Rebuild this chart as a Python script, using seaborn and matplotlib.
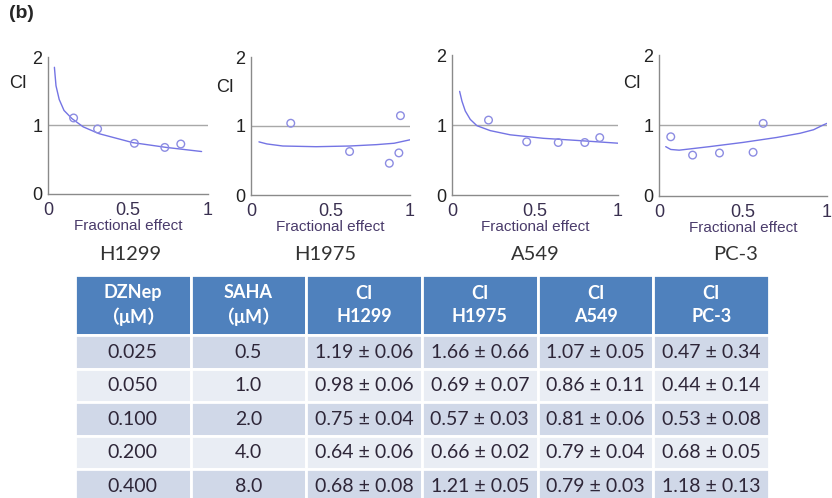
import numpy as np
import pandas as pd
import matplotlib
matplotlib.use('Agg')
import matplotlib.pyplot as plt
from matplotlib.ticker import MultipleLocator
import seaborn as sns

# ---- data ----
cell_lines = ['H1299', 'H1975', 'A549', 'PC-3']

# measured points: fractional effect vs CI
h1299_fa = [0.16, 0.31, 0.54, 0.73, 0.83]
h1299_ci = [1.11, 0.95, 0.74, 0.68, 0.73]
h1975_fa = [0.25, 0.62, 0.87, 0.93, 0.94]
h1975_ci = [1.04, 0.63, 0.46, 0.61, 1.15]
a549_fa = [0.22, 0.45, 0.64, 0.80, 0.89]
a549_ci = [1.07, 0.76, 0.75, 0.75, 0.82]
pc3_fa = [0.07, 0.20, 0.36, 0.56, 0.62]
pc3_ci = [0.84, 0.58, 0.61, 0.62, 1.03]

# fitted CI curves (traced)
h1299_curve_fa = [0.04, 0.05, 0.07, 0.10, 0.15, 0.22, 0.32, 0.53, 0.74, 0.96]
h1299_curve_ci = [1.85, 1.58, 1.38, 1.22, 1.10, 0.98, 0.88, 0.75, 0.68, 0.62]
h1975_curve_fa = [0.05, 0.10, 0.20, 0.41, 0.62, 0.79, 0.90, 1.00]
h1975_curve_ci = [0.77, 0.74, 0.71, 0.70, 0.71, 0.73, 0.75, 0.80]
a549_curve_fa = [0.046, 0.06, 0.08, 0.11, 0.15, 0.23, 0.35, 0.55, 0.75, 1.00]
a549_curve_ci = [1.48, 1.34, 1.20, 1.08, 0.99, 0.92, 0.86, 0.81, 0.78, 0.74]
pc3_curve_fa = [0.04, 0.07, 0.12, 0.30, 0.50, 0.70, 0.84, 0.92, 0.98, 1.00]
pc3_curve_ci = [0.70, 0.66, 0.65, 0.70, 0.76, 0.83, 0.89, 0.94, 1.01, 1.03]

# table
dznep = ['0.025', '0.050', '0.100', '0.200', '0.400']
saha = ['0.5', '1.0', '2.0', '4.0', '8.0']
ci_h1299 = ['1.19 ± 0.06', '0.98 ± 0.06', '0.75 ± 0.04', '0.64 ± 0.06', '0.68 ± 0.08']
ci_h1975 = ['1.66 ± 0.66', '0.69 ± 0.07', '0.57 ± 0.03', '0.66 ± 0.02', '1.21 ± 0.05']
ci_a549 = ['1.07 ± 0.05', '0.86 ± 0.11', '0.81 ± 0.06', '0.79 ± 0.04', '0.79 ± 0.03']
ci_pc3 = ['0.47 ± 0.34', '0.44 ± 0.14', '0.53 ± 0.08', '0.68 ± 0.05', '1.18 ± 0.13']
headers = ['DZNep\n（μM）', 'SAHA\n（μM）', 'CI\nH1299', 'CI\nH1975', 'CI\nA549', 'CI\nPC-3']

sns.set_style('white')
plt.rcParams['font.family'] = ['Liberation Sans', 'DejaVu Sans']
table_font = ['Lato', 'Noto Sans CJK SC', 'DejaVu Sans']

W, H = 832, 498
fig = plt.figure(figsize=(W / 100, H / 100), dpi=100)


def px_axes(l, t, r, b):
    return fig.add_axes([l / W, 1 - b / H, (r - l) / W, (b - t) / H])


# axes boxes in pixels (left, top, right, bottom)
boxes = [(48, 57, 208, 194), (251, 57, 410, 195), (452, 55, 618, 195), (659, 55, 827, 196)]
points = [(h1299_fa, h1299_ci), (h1975_fa, h1975_ci), (a549_fa, a549_ci), (pc3_fa, pc3_ci)]
curves = [(h1299_curve_fa, h1299_curve_ci), (h1975_curve_fa, h1975_curve_ci),
          (a549_curve_fa, a549_curve_ci), (pc3_curve_fa, pc3_curve_ci)]

for box, (fa, ci), (cfa, cci) in zip(boxes, points, curves):
    ax = px_axes(*box)
    ax.axhline(1, color='#a8a8a8', lw=1, zorder=1)
    sns.lineplot(x=cfa, y=cci, ax=ax, sort=False, estimator=None,
                 color='#7474e4', lw=1.0, zorder=2)
    sns.scatterplot(x=fa, y=ci, ax=ax, s=30, facecolor='none',
                    edgecolor='#8c8ce2', linewidth=1.0, zorder=3)
    ax.set_xlim(0, 1)
    ax.set_ylim(0, 2)
    ax.set_xticks([0, 0.5, 1])
    ax.set_xticklabels(['0', '0.5', '1'])
    ax.set_yticks([0, 1, 2])
    ax.set_yticklabels(['0', '1', '2'])
    ax.xaxis.set_minor_locator(MultipleLocator(0.1))
    ax.yaxis.set_minor_locator(MultipleLocator(0.5))
    ax.tick_params(which='both', direction='in', length=2.5, width=0.8,
                   colors='#909090', labelcolor='#222222', labelsize=13)
    ax.tick_params(axis='x', pad=6)
    ax.tick_params(axis='y', pad=4)
    for s in ['top', 'right']:
        ax.spines[s].set_visible(False)
    for s in ['left', 'bottom']:
        ax.spines[s].set_color('#8a8a8a')
        ax.spines[s].set_linewidth(1.0)
    ax.set_xlabel('Fractional effect', fontsize=11, color='#4a3b6b', labelpad=0)
    ax.set_ylabel('')
    for lab in ax.get_xticklabels():
        lab.set_color('#3a3050')

# CI labels (not on the A549 panel)
for x, y in [(18, 84), (225, 88), (632, 84)]:
    fig.text(x / W, 1 - y / H, 'CI', fontsize=13, color='#222222', ha='center', va='center')

# panel letter
fig.text(9 / W, 1 - 13 / H, '(b)', fontsize=14, fontweight='bold', ha='left', va='center')

# cell line names
for x, name in zip([130, 325, 535, 736], cell_lines):
    fig.text(x / W, 1 - 254 / H, name, fontsize=14.5, color='#333333',
             ha='center', va='center', family=table_font)

# ---- table ----
tax = px_axes(75, 275, 769, 503)
tax.axis('off')
rows = list(zip(dznep, saha, ci_h1299, ci_h1975, ci_a549, ci_pc3))
tbl = tax.table(cellText=rows, colLabels=headers, cellLoc='center', bbox=[0, 0, 1, 1])
tbl.auto_set_font_size(False)
for (r, c), cell in tbl.get_celld().items():
    cell.set_edgecolor('white')
    cell.set_linewidth(2)
    txt = cell.get_text()
    txt.set_family(table_font)
    if r == 0:
        cell.set_height(cell.get_height() * 1.8)
        cell.set_facecolor('#4f81bd')
        txt.set_color('white')
        txt.set_fontweight('bold')
        txt.set_fontsize(13)
        txt.set_linespacing(1.45)
    else:
        cell.set_facecolor('#d0d8e8' if r % 2 == 1 else '#e9edf4')
        txt.set_color('#2e2638')
        txt.set_fontsize(14)

fig.savefig('out.png', dpi=100)
